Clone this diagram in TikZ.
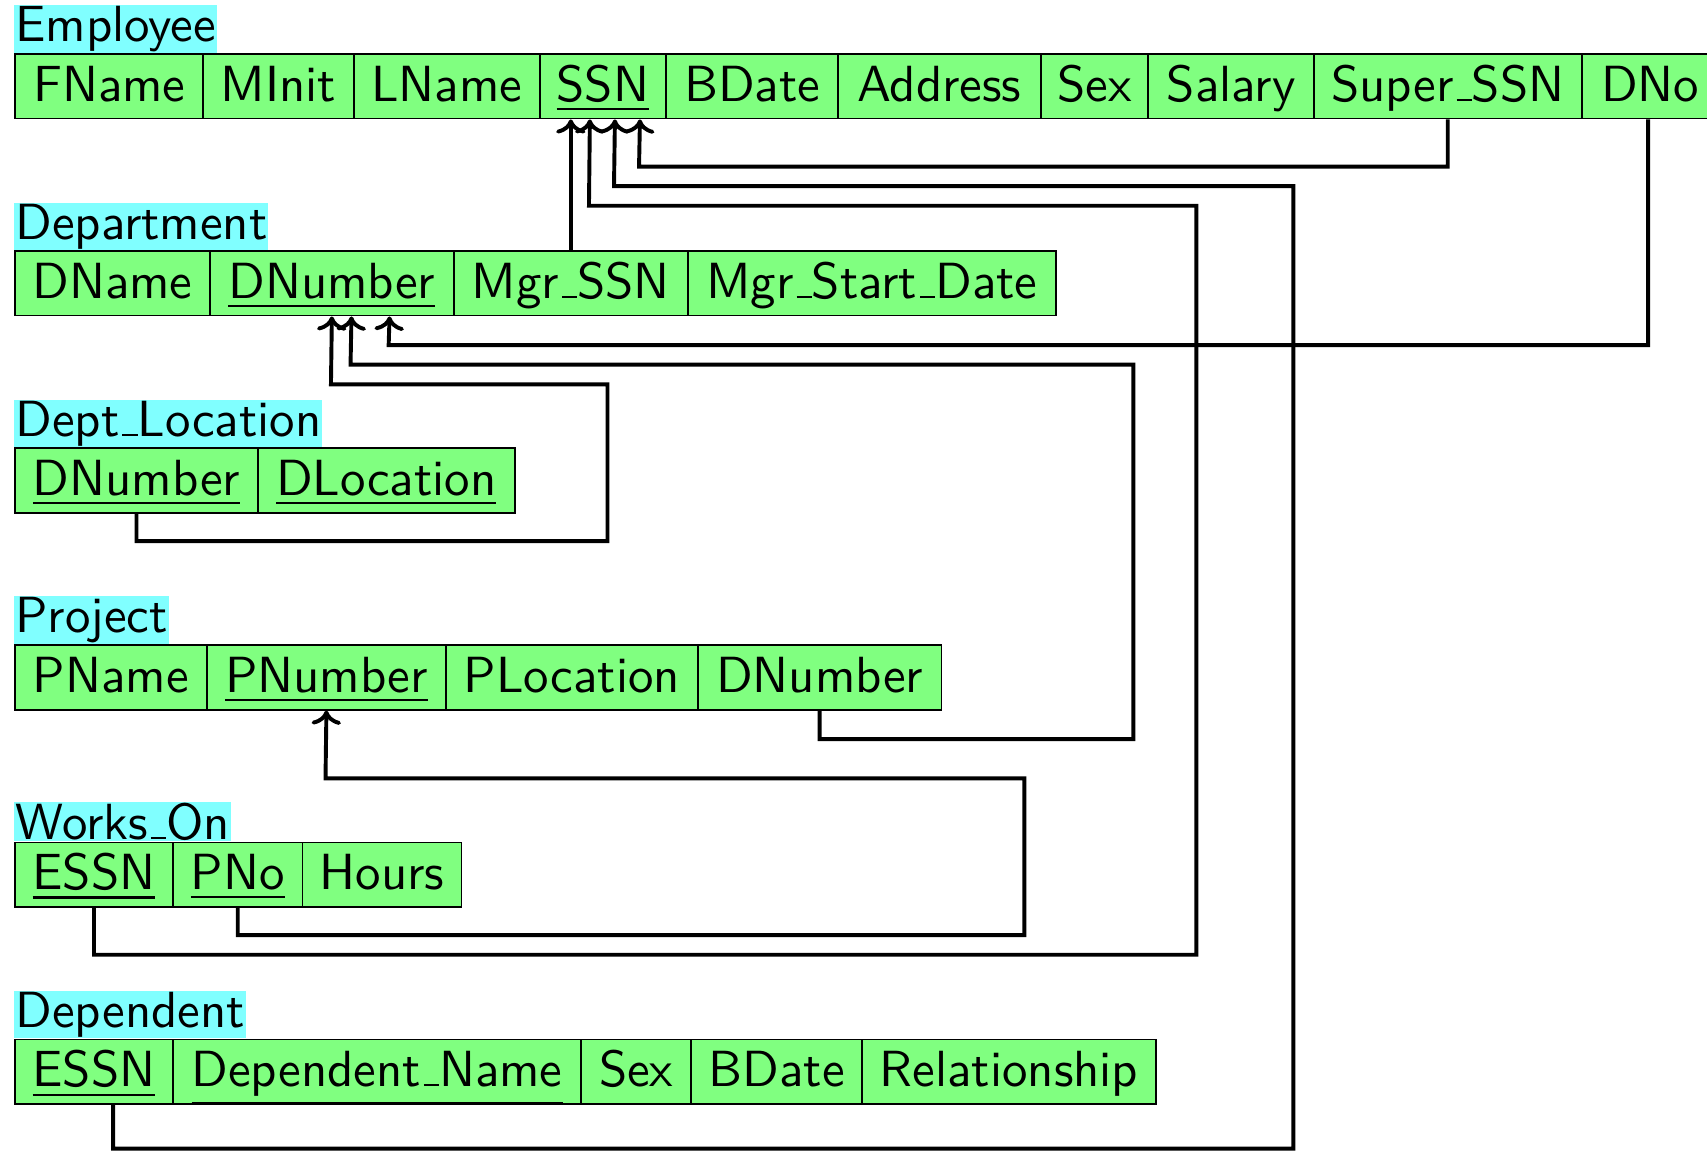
\documentclass[tikz,border=0pt]{standalone}
\usepackage{graphicx}
\usetikzlibrary{arrows.meta}

\definecolor{attrgreen}{RGB}{128,255,128}
\definecolor{relcyan}{RGB}{128,255,255}

% text of the schema, set in 10pt sans and scaled up
\newcommand\celltext[1]{\scalebox{4.67}{\sffamily #1}}
% low-line as a short rule sitting on the baseline
\newcommand\uscore{\kern.06em\vbox{\hrule width .3em height .4pt}}
\newcommand\keyattr[1]{\underline{#1}}

\tikzset{
  attr/.style={draw=black, line width=1.7pt, fill=attrgreen, anchor=north west,
    inner sep=0pt, text height=43pt, text depth=16pt, minimum height=59pt},
  relname/.style={fill=relcyan, anchor=south west, inner sep=1pt},
  fk/.style={line width=3.6pt, line join=miter,
    -{Computer Modern Rightarrow[length=13pt,width=27pt]}}
}

\begin{document}
\begin{tikzpicture}[x=1pt,y=-1pt]
\useasboundingbox (0,0) rectangle (1568,1058);

% ---------- Employee ----------
\node[relname] (lab-emp) at (13,49) {\celltext{Employee}};
\node[attr, minimum width=173pt] (e-fname)   at (13,49)   {\celltext{FName}};
\node[attr, minimum width=138pt] (e-minit)   at (186,49)  {\celltext{MInit}};
\node[attr, minimum width=171pt] (e-lname)   at (324,49)  {\celltext{LName}};
\node[attr, minimum width=116pt] (e-ssn)     at (495,49)  {\celltext{\keyattr{SSN}}};
\node[attr, minimum width=158pt] (e-bdate)   at (611,49)  {\celltext{BDate}};
\node[attr, minimum width=186pt] (e-address) at (769,49)  {\celltext{Address}};
\node[attr, minimum width=99pt]  (e-sex)     at (955,49)  {\celltext{Sex}};
\node[attr, minimum width=152pt] (e-salary)  at (1054,49) {\celltext{Salary}};
\node[attr, minimum width=246pt] (e-superssn) at (1206,49) {\celltext{Super\uscore SSN}};
\node[attr, minimum width=126pt] (e-dno)     at (1452,49) {\celltext{DNo}};

% ---------- Department ----------
\node[relname] (lab-dept) at (13,230) {\celltext{Department}};
\node[attr, minimum width=179pt] (d-dname)    at (13,230)  {\celltext{DName}};
\node[attr, minimum width=224pt] (d-dnumber)  at (192,230) {\celltext{\keyattr{DNumber}}};
\node[attr, minimum width=215pt] (d-mgrssn)   at (416,230) {\celltext{Mgr\uscore SSN}};
\node[attr, minimum width=338pt] (d-mgrstart) at (631,230) {\celltext{Mgr\uscore Start\uscore Date}};

% ---------- Dept_Location ----------
\node[relname] (lab-dloc) at (13,411) {\celltext{Dept\uscore Location}};
\node[attr, minimum width=223pt] (l-dnumber)   at (13,411)  {\celltext{\keyattr{DNumber}}};
\node[attr, minimum width=236pt] (l-dlocation) at (236,411) {\celltext{\keyattr{DLocation}}};

% ---------- Project ----------
\node[relname] (lab-proj) at (13,592) {\celltext{Project}};
\node[attr, minimum width=176pt] (p-pname)     at (13,592)  {\celltext{PName}};
\node[attr, minimum width=220pt] (p-pnumber)   at (189,592) {\celltext{\keyattr{PNumber}}};
\node[attr, minimum width=231pt] (p-plocation) at (409,592) {\celltext{PLocation}};
\node[attr, minimum width=224pt] (p-dnumber)   at (640,592) {\celltext{DNumber}};

% ---------- Works_On ----------
\node[relname] (lab-works) at (13,773) {\celltext{Works\uscore On}};
\node[attr, minimum width=145pt] (w-essn)  at (13,773)  {\celltext{\keyattr{ESSN}}};
\node[attr, minimum width=119pt] (w-pno)   at (158,773) {\celltext{\keyattr{PNo}}};
\node[attr, minimum width=146pt] (w-hours) at (277,773) {\celltext{Hours}};

% ---------- Dependent ----------
\node[relname] (lab-dep) at (13,954) {\celltext{Dependent}};
\node[attr, minimum width=145pt] (t-essn)  at (13,954)  {\celltext{\keyattr{ESSN}}};
\node[attr, minimum width=375pt] (t-name)  at (158,954) {\celltext{\keyattr{Dependent\uscore Name}}};
\node[attr, minimum width=101pt] (t-sex)   at (533,954) {\celltext{Sex}};
\node[attr, minimum width=157pt] (t-bdate) at (634,954) {\celltext{BDate}};
\node[attr, minimum width=270pt] (t-rel)   at (791,954) {\celltext{Relationship}};

% ---------- foreign keys to Employee.SSN ----------
\draw[fk] (d-mgrssn.north) -- (d-mgrssn.north |- e-ssn.south);
\draw[fk] (w-essn.south) |- (1099,877) |- (541,189) -- ([xshift=-12pt]e-ssn.south);
\draw[fk] ([xshift=17.5pt]t-essn.south) |- (1188,1055) |- (564,171) -- ([xshift=11pt]e-ssn.south);
\draw[fk] (e-superssn.south) |- (587,153) -- ([xshift=34pt]e-ssn.south);

% ---------- foreign keys to Department.DNumber ----------
\draw[fk] ([xshift=-2pt]e-dno.south) |- (357,317) -- ([xshift=53pt]d-dnumber.south);
\draw[fk] (p-dnumber.south) |- (1041,679) |- (322,335) -- ([xshift=18pt]d-dnumber.south);
\draw[fk] (l-dnumber.south) |- (558,497) |- (304,353) -- (d-dnumber.south);

% ---------- foreign key to Project.PNumber ----------
\draw[fk] (w-pno.south) |- (941,859) |- (299,715) -- (p-pnumber.south);
\end{tikzpicture}
\end{document}
